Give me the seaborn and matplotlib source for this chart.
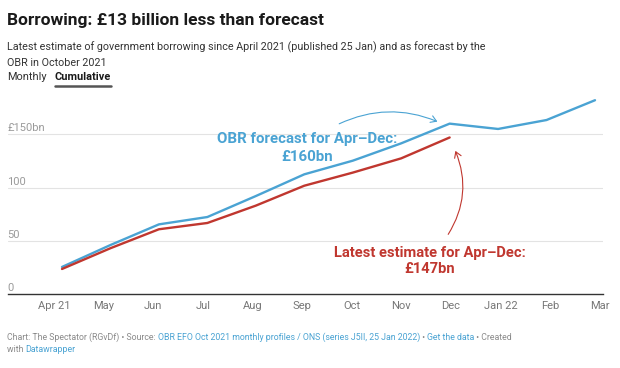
import matplotlib
matplotlib.use("Agg")
import matplotlib.pyplot as plt
import matplotlib.transforms as mtransforms
from matplotlib.patches import FancyArrowPatch
from matplotlib.lines import Line2D
import seaborn as sns
import pandas as pd

# ---- data ----
months = ["Apr 21", "May", "Jun", "Jul", "Aug", "Sep", "Oct", "Nov", "Dec",
          "Jan 22", "Feb", "Mar"]
obr_forecast = [25.4, 46, 65.4, 72.3, 92, 112.4, 125.2, 141.5, 160, 155, 163.4, 182]
latest_estimate = [23.5, 43, 60.8, 66.7, 83, 101.7, 114, 127.4, 147]
y_ticks = [0, 50, 100, 150]
y_tick_labels = ["0", "50", "100", "£150bn"]

BLUE = "#4aa3d3"
RED = "#c0372f"
GRAY = "#8a8a8a"

sns.set_theme(style="white")
plt.rcParams["font.family"] = ["Roboto", "DejaVu Sans"]

W, H = 620, 368
fig = plt.figure(figsize=(W / 100, H / 100), dpi=100)
fig.patch.set_facecolor("white")


def fx(x):
    return x / W


def fy(y):
    return 1 - y / H


ax = fig.add_axes([fx(7.5), fy(294), fx(603) - fx(7.5), fy(95) - fy(294)])

df = pd.DataFrame({
    "month_idx": list(range(len(obr_forecast))) + list(range(len(latest_estimate))),
    "value": obr_forecast + latest_estimate,
    "series": ["OBR forecast"] * len(obr_forecast) + ["Latest estimate"] * len(latest_estimate),
})
sns.lineplot(data=df, x="month_idx", y="value", hue="series",
             palette={"OBR forecast": BLUE, "Latest estimate": RED},
             linewidth=1.7, ax=ax, legend=False, zorder=3)

ax.set_xlim(-1.125, 11.165)
ax.set_ylim(0, 186.9)
ax.set_xlabel("")
ax.set_ylabel("")
for s in ["top", "right", "left"]:
    ax.spines[s].set_visible(False)
ax.spines["bottom"].set_color("#333333")
ax.spines["bottom"].set_linewidth(1.0)
ax.set_facecolor("none")

for v in y_ticks[1:]:
    ax.axhline(v, color="#e3e3e3", lw=0.8, zorder=0)

ax.set_yticks([])
ax.set_xticks([i * 1.024 - 0.165 for i in range(len(months))])
ax.set_xticklabels(months)
ax.tick_params(axis="x", length=0, pad=5, labelsize=8, labelcolor="#777777")

blend = mtransforms.blended_transform_factory(ax.transAxes, ax.transData)
ytrans = mtransforms.offset_copy(blend, fig=fig, y=3, units="dots")
for v, lab in zip(y_ticks, y_tick_labels):
    ax.text(0, v, lab, transform=ytrans, ha="left", va="baseline",
            fontsize=8, color="#9a9a9a")

# ---- titles ----
fig.text(fx(7), fy(25), "Borrowing: £13 billion less than forecast",
         fontsize=12.5, fontweight="bold", color="#1a1a1a", va="baseline")
fig.text(fx(7), fy(50),
         "Latest estimate of government borrowing since April 2021 (published 25 Jan) and as forecast by the",
         fontsize=7.75, color="#333333", va="baseline")
fig.text(fx(7), fy(65.7), "OBR in October 2021", fontsize=7.75, color="#333333", va="baseline")
fig.text(fx(7), fy(80.5), "Monthly", fontsize=7.9, color="#333333", va="baseline")
cum = fig.text(fx(54.5), fy(80.5), "Cumulative", fontsize=7.9, fontweight="bold",
               color="#1a1a1a", va="baseline")
fig.canvas.draw()
r = fig.canvas.get_renderer()
bb = cum.get_window_extent(r)
fig.add_artist(Line2D([bb.x0 / W, bb.x1 / W], [fy(86.2), fy(86.2)],
                      transform=fig.transFigure, color="#555555", lw=1.8))

# ---- annotations ----
fig.text(fx(307), fy(143), "OBR forecast for Apr\u2013Dec:", ha="center", va="baseline",
         fontsize=10.8, fontweight="bold", color=BLUE)
fig.text(fx(307), fy(161.5), "£160bn", ha="center", va="baseline",
         fontsize=10.8, fontweight="bold", color=BLUE)
fig.text(fx(430), fy(256.5), "Latest estimate for Apr\u2013Dec:", ha="center", va="baseline",
         fontsize=10.6, fontweight="bold", color=RED)
fig.text(fx(430), fy(273), "£147bn", ha="center", va="baseline",
         fontsize=10.6, fontweight="bold", color=RED)

fig.add_artist(FancyArrowPatch((fx(336.7), fy(125)), (fx(440), fy(122.7)),
                               transform=fig.transFigure,
                               connectionstyle="arc3,rad=-0.23",
                               arrowstyle="->,head_length=4,head_width=2.5",
                               color=BLUE, lw=0.8))
fig.add_artist(FancyArrowPatch((fx(446.7), fy(236.7)), (fx(454.3), fy(148.3)),
                               transform=fig.transFigure,
                               connectionstyle="arc3,rad=0.27",
                               arrowstyle="->,head_length=4,head_width=2.5",
                               color=RED, lw=0.8))

# ---- footer ----
LINK = "#4aa3d3"


def run(pieces, x, y):
    for txt, col in pieces:
        t = fig.text(fx(x), fy(y), txt, fontsize=6.3, color=col, va="baseline")
        fig.canvas.draw()
        e = t.get_window_extent(fig.canvas.get_renderer())
        x = e.x1


run([("Chart: The Spectator (RGvDf) \u2022 Source: ", GRAY),
     ("OBR EFO Oct 2021 monthly profiles / ONS (series J5II, 25 Jan 2022)", LINK),
     (" \u2022 ", GRAY), ("Get the data", LINK), (" \u2022 Created", GRAY)], 7, 340)
run([("with ", GRAY), ("Datawrapper", LINK)], 7, 352.5)

fig.savefig("out.png", dpi=100, facecolor="white")
